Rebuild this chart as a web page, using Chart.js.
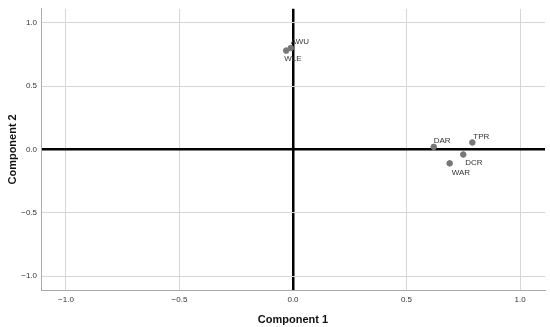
<!DOCTYPE html>
<html lang="en">
  <head>
    <meta charset="UTF-8" />
    <title>Component Plot</title>
    <script src="https://cdn.jsdelivr.net/npm/chart.js"></script>
    <style>
      html, body { margin: 0; padding: 0; background: #fff; }
      #wrap { width: 550px; height: 327px; }
    </style>
  </head>
  <body>
    <div id="wrap"><canvas id="myChart"></canvas></div>
    <script>
      const names = ["AWU", "WLE", "DAR", "TPR", "DCR", "WAR"];
      const comp1 = [-0.01, -0.03, 0.62, 0.79, 0.75, 0.69];
      const comp2 = [0.8, 0.78, 0.02, 0.055, -0.04, -0.11];
      const tickValues = [-1.0, -0.5, 0.0, 0.5, 1.0];

      // label offsets relative to point (px)
      const labelPos = {
        AWU: [0, -6, "left"],
        WLE: [-2, 8, "left"],
        DAR: [0, -6, "left"],
        TPR: [1, -6, "left"],
        DCR: [2, 8, "left"],
        WAR: [2, 9, "left"],
      };

      const points = names.map((n, i) => ({ x: comp1[i], y: comp2[i] }));

      const pointLabels = {
        id: "pointLabels",
        afterDatasetsDraw(chart) {
          const { ctx } = chart;
          const meta = chart.getDatasetMeta(0);
          ctx.save();
          ctx.font = "8px 'Liberation Sans', Arial, sans-serif";
          ctx.fillStyle = "#333";
          ctx.textBaseline = "middle";
          meta.data.forEach((el, i) => {
            const p = labelPos[names[i]];
            ctx.textAlign = p[2];
            ctx.fillText(names[i], el.x + p[0], el.y + p[1]);
          });
          ctx.restore();
        },
      };

      const gridColor = (c) => (c.tick && c.tick.value === 0 ? "#000" : "#d6d6d6");
      const gridWidth = (c) => (c.tick && c.tick.value === 0 ? 2.5 : 1);
      const fmt = (v) => v.toFixed(1).replace("-", "\u2212");

      new Chart(document.getElementById("myChart"), {
        type: "scatter",
        data: {
          datasets: [
            {
              data: points,
              backgroundColor: "#777",
              borderColor: "#777",
              pointRadius: 2.8,
            },
          ],
        },
        options: {
          responsive: true,
          maintainAspectRatio: false,
          animation: false,
          layout: { padding: { top: 5, right: 5, left: 6, bottom: 0 } },
          plugins: { legend: { display: false }, tooltip: { enabled: false } },
          scales: {
            x: {
              min: -1.11,
              max: 1.11,
              afterBuildTicks: (s) => { s.ticks = tickValues.map((v) => ({ value: v })); },
              afterFit: (s) => { s.height = 37; },
              grid: { color: gridColor, lineWidth: gridWidth, drawTicks: false },
              border: { color: "#aaa", width: 1 },
              ticks: {
                padding: 5,
                maxRotation: 0,
                color: "#333",
                font: { size: 8, family: "'Liberation Sans', Arial, sans-serif" },
                callback: fmt,
              },
              title: {
                display: true,
                text: "Component 1",
                color: "#111",
                padding: { top: 5, bottom: 0 },
                font: { size: 11, weight: "bold", family: "'Liberation Sans', Arial, sans-serif" },
              },
            },
            y: {
              min: -1.11,
              max: 1.11,
              afterBuildTicks: (s) => { s.ticks = tickValues.map((v) => ({ value: v })); },
              afterFit: (s) => { s.width = 35; },
              grid: { color: gridColor, lineWidth: gridWidth, drawTicks: false },
              border: { color: "#aaa", width: 1 },
              ticks: {
                padding: 4,
                color: "#333",
                font: { size: 8, family: "'Liberation Sans', Arial, sans-serif" },
                callback: fmt,
              },
              title: {
                display: true,
                text: "Component 2",
                color: "#111",
                padding: { top: 0, bottom: 4 },
                font: { size: 11, weight: "bold", family: "'Liberation Sans', Arial, sans-serif" },
              },
            },
          },
        },
        plugins: [pointLabels],
      });
    </script>
  </body>
</html>
